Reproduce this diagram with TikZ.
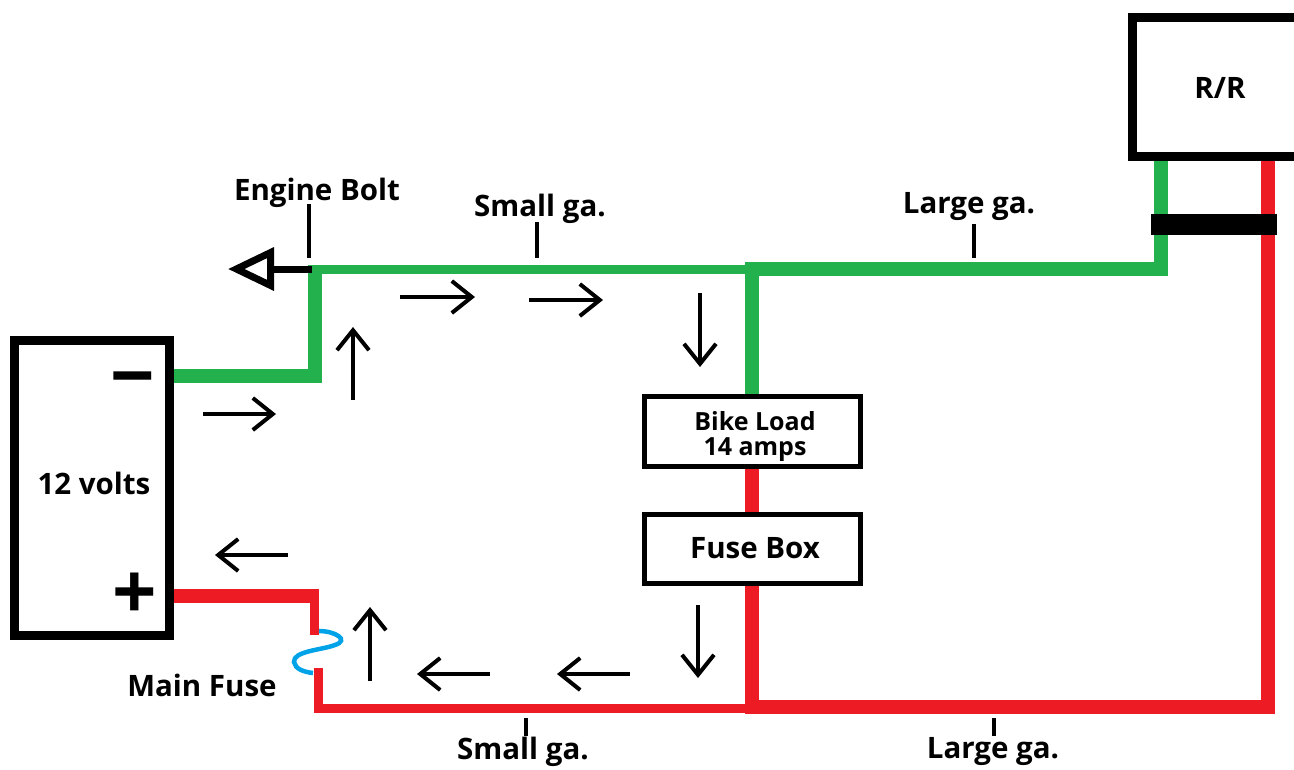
\documentclass[tikz,border=0pt]{standalone}
\usepackage{fontspec}
\setmainfont{Open Sans}
\usetikzlibrary{arrows.meta}
\definecolor{wiregreen}{HTML}{22B14C}
\definecolor{wirered}{HTML}{ED1C24}
\definecolor{fuseblue}{HTML}{00A2E8}
\begin{document}
\begin{tikzpicture}
        [x=1pt,y=-1pt,
        box/.style={draw=black,line width=5pt,fill=white,inner sep=0pt,align=center},
        heavybox/.style={box,line width=9pt},
        txt/.style={font=\bfseries\fontsize{29.5}{30}\selectfont,inner sep=0pt},
        smalltxt/.style={font=\bfseries\fontsize{25}{25}\selectfont,inner sep=0pt,align=center},
        sign/.style={font=\bfseries\fontsize{78}{78}\selectfont,inner sep=0pt},
        greenthin/.style={wiregreen,line width=9pt},
        greenthick/.style={wiregreen,line width=14pt},
        redthin/.style={wirered,line width=9pt},
        redthick/.style={wirered,line width=14pt},
        flow/.style={line width=4pt,-{Straight Barb[length=20pt,width=32pt,line width=4pt]}},
        tick/.style={line width=4pt}]
        \useasboundingbox (0,0) rectangle (1294,769);
        \clip (0,0) rectangle (1294,769);
        % boxes
        \node[heavybox,minimum width=155.5pt,minimum height=295.5pt] (battery) at (92,488) {};
        \node[heavybox,minimum width=176pt,minimum height=139pt] (rr) at (1220,87) {};
        \node[box,minimum width=216pt,minimum height=70pt] (load) at (752.5,431) {};
        \node[box,minimum width=216pt,minimum height=69pt] (fusebox) at (752.5,548.5) {};
        % wire corners
        \coordinate (gbat) at (battery.east |- 0,376);
        \coordinate (gup) at (315,376);
        \coordinate (gtop) at (315,265);
        \coordinate (gleft) at (315,269.5);
        \coordinate (gmid) at (745,269.5);
        \coordinate (jgreen) at (751.5,269);
        \coordinate (gstart) at (744.5,269);
        \coordinate (gturn) at (1160.5,269);
        \coordinate (rbat) at (battery.east |- 0,595.5);
        \coordinate (rend) at (319,595.5);
        \coordinate (rtop) at (314.5,588.5);
        \coordinate (fusein) at (314.5,635);
        \coordinate (fuseout) at (318.5,668);
        \coordinate (rlow) at (318.5,708);
        \coordinate (rmid) at (745,708);
        \coordinate (jred) at (751.5,707);
        \coordinate (rstart) at (744.5,707);
        \coordinate (rturn) at (1268,707);
        % wires
        \draw[greenthick] (gbat) -- (gup) -- (gtop);
        \draw[greenthin] (gleft) -- (gmid);
        \draw[greenthick] (gstart) -- (gturn) -- (gturn |- rr.south);
        \draw[greenthick] (jgreen) -- (jgreen |- load.north);
        \draw[redthick] (jgreen |- load.south) -- (jgreen |- fusebox.north);
        \draw[redthick] (jgreen |- fusebox.south) -- (jred);
        \draw[redthick] (rstart) -- (rturn) -- (rturn |- rr.south);
        \draw[redthick] (rbat) -- (rend);
        \draw[redthin] (rtop) -- (fusein);
        \draw[redthin] (fuseout) -- (rlow) -- (rmid);
        % main fuse
        \draw[fuseblue,line width=4.5pt] (319,631) .. controls (335,631) and (350,640) .. (335,645)
            .. controls (322,650) and (293,651) .. (294,662)
            .. controls (295,669) and (304,672) .. (313,673);
        % ground bar and engine bolt
        \node[fill=black,inner sep=0pt,minimum width=126pt,minimum height=21pt] (bar) at (1214,224.5) {};
        \coordinate (bolt) at (312,269);
        \coordinate (boltend) at (228,269);
        \draw[line width=7pt,-{Triangle[open,length=46pt,width=42pt,line width=7pt]}] (bolt) -- (boltend);
        % labels
        \node[txt] (enginelbl) at (317,193) {Engine Bolt};
        \node[txt] (smalltop) at (540,209) {Small ga.};
        \node[txt] (largetop) at (969,207) {Large ga.};
        \node[txt] (smallbot) at (523,752) {Small ga.};
        \node[txt] (largebot) at (993,752) {Large ga.};
        \node[txt] (fuselbl) at (202,685) {Main Fuse};
        \node[txt] (voltlbl) at (94,483) {12 volts};
        \node[txt] (rrlbl) at (1220,88) {R/R};
        \node[txt] (fboxlbl) at (755,548) {Fuse Box};
        \node[smalltxt] (loadlbl) at (755,436) {Bike Load\\14 amps};
        \node[sign] (minus) at (133,388) {−};
        \node[sign] (plus) at (135,596) {+};
        % label ticks
        \coordinate (t1) at (308.5,204);
        \coordinate (t2) at (308.5,258);
        \draw[tick] (t1) -- (t2);
        \coordinate (t3) at (537,222);
        \coordinate (t4) at (537,258);
        \draw[tick] (t3) -- (t4);
        \coordinate (t5) at (974,224);
        \coordinate (t6) at (974,258);
        \draw[tick] (t5) -- (t6);
        \coordinate (t7) at (526,718);
        \coordinate (t8) at (526,736);
        \draw[tick] (t7) -- (t8);
        \coordinate (t9) at (994,718);
        \coordinate (t10) at (994,736);
        \draw[tick] (t9) -- (t10);
        % current direction
        \foreach \name/\xa/\ya/\xb/\yb in {a/203/414/276/414,b/353/400/353/327,c/400/297/475/297,
            d/529/300/603/300,e/700/293/700/367,f/698/605/698/678,g/630/674/557/674,
            h/490/674/417/674,i/370/681/370/607,j/288/555/215/555} {
            \coordinate (\name1) at (\xa,\ya);
            \coordinate (\name2) at (\xb,\yb);
            \draw[flow] (\name1) -- (\name2);
        }
\end{tikzpicture}
\end{document}
